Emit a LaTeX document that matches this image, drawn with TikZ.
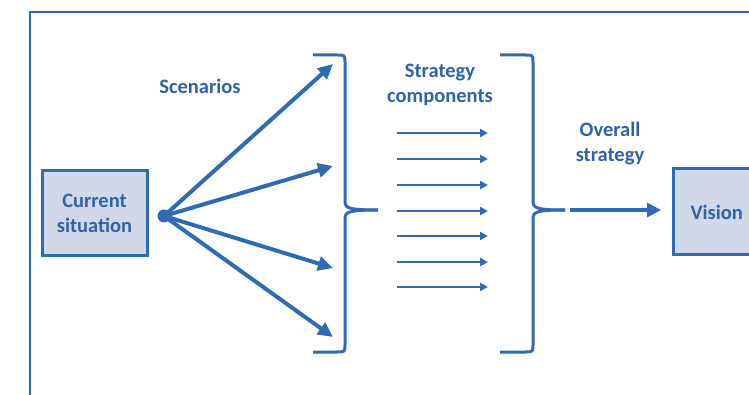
\documentclass[tikz,border=0pt]{standalone}
\usepackage{fontspec}
\setmainfont{Carlito}
\usetikzlibrary{arrows.meta}

\definecolor{lineblue}{HTML}{2E6BB3}
\definecolor{textblue}{HTML}{2F62A8}
\definecolor{boxfill}{HTML}{D1D8E8}

\tikzset{
  every node/.style={font=\fontsize{20.5}{25}\selectfont\bfseries, text=textblue, align=center},
  box/.style={draw=lineblue, line width=3pt, fill=boxfill},
  scenario/.style={draw=lineblue, line width=4pt, -{Triangle[length=15pt,width=14pt]}},
  component/.style={draw=lineblue, line width=2.6pt, -{Triangle[length=8pt,width=8pt]}},
  overall/.style={draw=lineblue, line width=4.5pt, -{Triangle[length=14pt,width=14pt]}},
  bracket/.style={draw=lineblue, line width=3pt, line join=round}
}

\begin{document}
\begin{tikzpicture}[x=1pt, y=-1pt]
  \useasboundingbox (0,0) rectangle (749,395);
  \clip (0,0) rectangle (749,395);

  % outer frame (runs off the page)
  \draw[lineblue, line width=2.5pt] (30,420) -- (30,12) -- (780,12);

  % boxes
  \node[box, minimum width=105pt, minimum height=85pt] (cur) at (94.5,213.5) {Current\\situation};
  \node[box, anchor=west, minimum height=86pt, text width=100pt, align=left, inner xsep=17pt] (vision) at (672,212) {Vision};

  % labels
  \node (scen) at (200,86) {Scenarios};
  \node (comp) at (440,85) {Strategy\\components};
  \node (strat) at (610,144) {Overall\\strategy};

  % scenarios fan out from one point
  \node[circle, fill=lineblue, inner sep=0pt, minimum size=13pt] (hub) at (164,216) {};
  \coordinate (sc1) at (333,64);
  \coordinate (sc2) at (333,166);
  \coordinate (sc3) at (333,268);
  \coordinate (sc4) at (333,337);
  \foreach \i in {1,...,4}
    \draw[scenario] (hub.center) -- (sc\i);

  % first bracket
  \coordinate (tip1) at (378,210);
  \draw[bracket] (313,55) -- (337,55) .. controls (345,55) .. (345,63) -- (345,201)
    .. controls (345,208) and (348,210) .. (tip1);
  \draw[bracket] (313,352) -- (337,352) .. controls (345,352) .. (345,344) -- (345,219)
    .. controls (345,212) and (348,210) .. (tip1);

  % strategy components
  \foreach \y [count=\i] in {133,159,185,211,236,262,287} {
    \coordinate (cs\i) at (397,\y);
    \coordinate (ce\i) at (488,\y);
    \draw[component] (cs\i) -- (ce\i);
  }

  % second bracket
  \coordinate (tip2) at (565,210);
  \draw[bracket] (500,55) -- (525,55) .. controls (533,55) .. (533,63) -- (533,201)
    .. controls (533,208) and (536,210) .. (tip2);
  \draw[bracket] (500,352) -- (525,352) .. controls (533,352) .. (533,344) -- (533,219)
    .. controls (533,212) and (536,210) .. (tip2);

  % overall strategy to vision
  \coordinate (os) at (570,210);
  \draw[overall] (os) -- ([xshift=-11pt]vision.west |- os);
\end{tikzpicture}
\end{document}
